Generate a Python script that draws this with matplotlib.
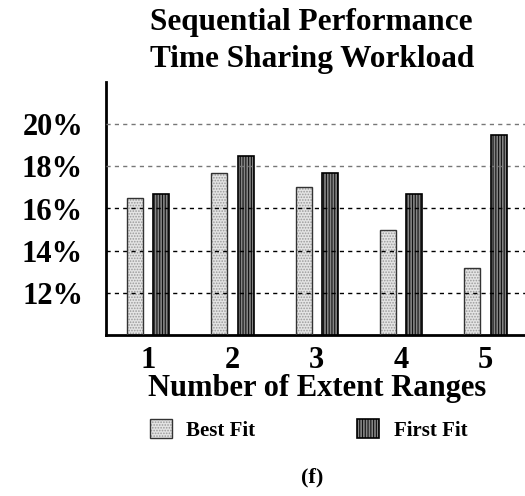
import matplotlib.pyplot as plt
from matplotlib.legend_handler import HandlerTuple
import numpy as np

# values (percent)
ranges = [1, 2, 3, 4, 5]
best_fit = [16.5, 17.7, 17.0, 15.0, 13.2]
first_fit = [16.7, 18.5, 17.7, 16.7, 19.5]
yticks = [12, 14, 16, 18, 20]
ytick_labels = ['12%', '14%', '16%', '18%', '20%']

plt.rcParams['font.family'] = 'Liberation Serif'
plt.rcParams['font.weight'] = 'bold'
plt.rcParams['hatch.linewidth'] = 0.8

fig = plt.figure(figsize=(5.25, 4.96), dpi=100)
ax = fig.add_axes([106 / 525, 1 - 335 / 496, 419 / 525, 253 / 496])

x = np.array(ranges, dtype=float)
w = 0.19
off = 0.156

# hatched fill first, then a plain outline on top so hatch and edge colours can differ
b1 = ax.bar(x - off, best_fit, w, color='#e4e4e4', edgecolor='#9a9a9a',
            hatch='......', linewidth=0, zorder=2)
b1o = ax.bar(x - off, best_fit, w, color='none', edgecolor='#333333', linewidth=1.0, zorder=4)
b2 = ax.bar(x + off, first_fit, w, color='#858585', edgecolor='#111111',
            hatch='||||||', linewidth=0, zorder=2)
b2o = ax.bar(x + off, first_fit, w, color='none', edgecolor='black', linewidth=1.2, zorder=4)

# dashed reference lines
for yv in yticks:
    c = '#777777' if yv >= 18 else 'black'
    ax.axhline(yv, color=c, lw=1.0, dashes=(3, 3), zorder=3)

ax.set_xlim(0.5, 5.47)
ax.set_ylim(10, 22)
ax.set_xticks(ranges)
ax.set_xticklabels([str(r) for r in ranges])
ax.set_yticks(yticks)
ax.set_yticklabels(ytick_labels)
ax.tick_params(axis='both', length=0, labelsize=22)
ax.tick_params(axis='x', pad=8)
ax.tick_params(axis='y', pad=16.5)

for s in ['top', 'right']:
    ax.spines[s].set_visible(False)
ax.spines['left'].set_linewidth(2)
ax.spines['bottom'].set_linewidth(2)

fig.text(311.7 / 525, 1 - 30 / 496, 'Sequential Performance', ha='center', va='baseline',
         fontsize=22.5, fontweight='bold')
fig.text(311.7 / 525, 1 - 67 / 496, 'Time Sharing Workload', ha='center', va='baseline',
         fontsize=22.5, fontweight='bold')
fig.text(317.4 / 525, 1 - 396 / 496, 'Number of Extent Ranges', ha='center', va='baseline',
         fontsize=22, fontweight='bold')
fig.text(312.3 / 525, 1 - 482.7 / 496, '(f)', ha='center', va='baseline',
         fontsize=16, fontweight='bold')

fig.legend([(b1[0], b1o[0]), (b2[0], b2o[0])], ['Best Fit', 'First Fit'],
           handler_map={tuple: HandlerTuple(ndivide=1, pad=0)},
           loc='center', bbox_to_anchor=(308.5 / 525, 1 - 430 / 496), ncol=2,
           frameon=False, fontsize=15, handlelength=1.05, handleheight=1.05,
           handletextpad=0.7, columnspacing=4.9, borderpad=0)

fig.savefig('out.png', dpi=100)
